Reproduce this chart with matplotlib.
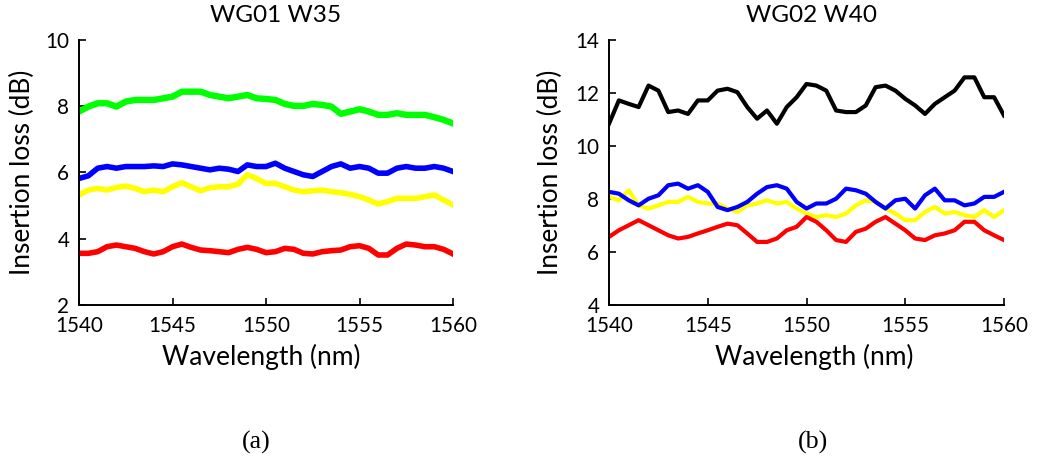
import numpy as np
import matplotlib
matplotlib.use("Agg")
import matplotlib.pyplot as plt

wavelength = [1540 + 0.5 * i for i in range(41)]

# Panel (a) WG01 W35
a_green = [7.84, 7.99, 8.09, 8.09, 7.99, 8.14, 8.19, 8.19, 8.19, 8.24, 8.29, 8.44, 8.44, 8.44,
           8.34, 8.29, 8.24, 8.29, 8.34, 8.24, 8.22, 8.19, 8.07, 8.01, 8.01, 8.07, 8.04, 7.99,
           7.77, 7.84, 7.91, 7.84, 7.74, 7.74, 7.79, 7.74, 7.74, 7.74, 7.67, 7.59, 7.48]
a_blue = [5.82, 5.90, 6.13, 6.18, 6.13, 6.18, 6.18, 6.18, 6.20, 6.18, 6.26, 6.23, 6.18, 6.13,
          6.08, 6.13, 6.10, 6.03, 6.23, 6.18, 6.18, 6.28, 6.13, 6.03, 5.93, 5.88, 6.03, 6.18,
          6.26, 6.13, 6.18, 6.13, 5.98, 5.98, 6.13, 6.18, 6.13, 6.13, 6.18, 6.13, 6.03]
a_yellow = [5.32, 5.47, 5.52, 5.47, 5.55, 5.59, 5.52, 5.42, 5.47, 5.42, 5.57, 5.69, 5.57, 5.45,
            5.54, 5.57, 5.57, 5.65, 5.93, 5.82, 5.67, 5.67, 5.57, 5.47, 5.42, 5.45, 5.47, 5.42,
            5.39, 5.34, 5.27, 5.17, 5.05, 5.12, 5.22, 5.22, 5.22, 5.27, 5.32, 5.17, 5.02]
a_red = [3.56, 3.56, 3.61, 3.76, 3.81, 3.76, 3.71, 3.61, 3.54, 3.61, 3.76, 3.84, 3.74, 3.66,
         3.64, 3.61, 3.58, 3.68, 3.74, 3.68, 3.58, 3.61, 3.71, 3.68, 3.56, 3.54, 3.61, 3.64,
         3.66, 3.76, 3.79, 3.71, 3.51, 3.51, 3.71, 3.84, 3.81, 3.76, 3.76, 3.68, 3.54]

# Panel (b) WG02 W40
b_black = [10.84, 11.72, 11.59, 11.47, 12.28, 12.09, 11.28, 11.34, 11.21, 11.72, 11.72, 12.09,
           12.16, 12.03, 11.47, 11.03, 11.34, 10.84, 11.47, 11.84, 12.34, 12.28, 12.09, 11.34,
           11.28, 11.28, 11.53, 12.22, 12.28, 12.09, 11.78, 11.53, 11.21, 11.59, 11.84, 12.09,
           12.59, 12.59, 11.84, 11.84, 11.15]
b_blue = [8.27, 8.20, 7.95, 7.76, 8.01, 8.14, 8.52, 8.58, 8.39, 8.52, 8.27, 7.70, 7.58, 7.70,
          7.89, 8.20, 8.45, 8.52, 8.39, 7.89, 7.64, 7.83, 7.83, 8.01, 8.39, 8.33, 8.20, 7.89,
          7.64, 7.95, 8.01, 7.64, 8.14, 8.39, 7.95, 7.95, 7.76, 7.83, 8.08, 8.08, 8.27]
b_yellow = [8.08, 7.95, 8.33, 7.76, 7.64, 7.76, 7.89, 7.89, 8.08, 7.89, 7.83, 7.83, 7.64, 7.51,
            7.76, 7.83, 7.95, 7.83, 7.89, 7.64, 7.45, 7.32, 7.39, 7.32, 7.45, 7.76, 7.95, 7.89,
            7.64, 7.45, 7.20, 7.20, 7.51, 7.70, 7.45, 7.51, 7.39, 7.32, 7.58, 7.32, 7.58]
b_red = [6.57, 6.82, 7.01, 7.20, 7.01, 6.82, 6.63, 6.51, 6.57, 6.70, 6.82, 6.95, 7.07, 7.01,
         6.70, 6.38, 6.38, 6.51, 6.82, 6.95, 7.32, 7.14, 6.82, 6.45, 6.38, 6.76, 6.88, 7.14,
         7.32, 7.07, 6.82, 6.51, 6.45, 6.63, 6.70, 6.82, 7.14, 7.14, 6.82, 6.63, 6.45]

xticks = [1540, 1545, 1550, 1555, 1560]
a_yticks = [2, 4, 6, 8, 10]
b_yticks = [4, 6, 8, 10, 12, 14]

plt.rcParams['font.family'] = ['Lato', 'DejaVu Sans']

W, H = 1038, 461
fig = plt.figure(figsize=(W / 100, H / 100), dpi=100)
renderer = fig.canvas.get_renderer()


def fit_size(text, target_px, family=None, rotation=0, start=14.0):
    """Font size so the drawn text spans target_px along its reading direction."""
    kw = {} if family is None else {'family': family}
    t = fig.text(0, 0, text, fontsize=start, rotation=rotation, **kw)
    bb = t.get_window_extent(renderer)
    span = bb.height if rotation == 90 else bb.width
    t.remove()
    return start * target_px / span


tick_fs = fit_size('1540', 48)
xlab_fs = fit_size('Wavelength (nm)', 199)
ylab_fs = fit_size('Insertion loss (dB)', 205, rotation=90)
title_fs = fit_size('WG01 W35', 132)
cap_fs = fit_size('(a)', 29, family='Liberation Serif')

ax1 = fig.add_axes([79 / W, 1 - 305 / H, 374 / W, 265 / H])
ax2 = fig.add_axes([609 / W, 1 - 305 / H, 395 / W, 265 / H])


def style(ax, yticks, title, title_x, xlabel_x, ylabel_x):
    for s in ['top', 'right']:
        ax.spines[s].set_visible(False)
    for s in ['left', 'bottom']:
        ax.spines[s].set_linewidth(1.4)
    ax.set_xlim(1540, 1560)
    ax.set_ylim(yticks[0], yticks[-1])
    ax.set_xticks(xticks)
    ax.set_yticks(yticks)
    ax.tick_params(direction='in', length=5, width=1.2, labelsize=tick_fs)
    ax.tick_params(axis='x', pad=8)
    ax.tick_params(axis='y', pad=7)
    ax.set_xlabel('Wavelength (nm)', fontsize=xlab_fs, va='center')
    ax.xaxis.set_label_coords(xlabel_x, -52 / 265)
    ax.set_ylabel('Insertion loss (dB)', fontsize=ylab_fs, va='center')
    ax.yaxis.set_label_coords(ylabel_x, 0.5)
    fig.text(title_x / W, 1 - 16 / H, title, ha='center', va='center', fontsize=title_fs)


lw_a = 4.0
ax1.plot(wavelength, a_green, color='#00ff00', lw=lw_a + 0.6)
ax1.plot(wavelength, a_blue, color='#0000ff', lw=lw_a)
ax1.plot(wavelength, a_yellow, color='#ffff00', lw=lw_a)
ax1.plot(wavelength, a_red, color='#ff0000', lw=lw_a)
style(ax1, a_yticks, 'WG01 W35', 276, (261.5 - 79) / 374, (22 - 79) / 374)

lw_b = 3.0
ax2.plot(wavelength, b_black, color='#000000', lw=lw_b)
ax2.plot(wavelength, b_yellow, color='#ffff00', lw=lw_b)
ax2.plot(wavelength, b_red, color='#ff0000', lw=lw_b)
ax2.plot(wavelength, b_blue, color='#0000ff', lw=lw_b)
style(ax2, b_yticks, 'WG02 W40', 811, (814 - 609) / 395, (550 - 609) / 395)

fig.text(256 / W, 1 - 442 / H, '(a)', ha='center', va='center',
         fontsize=cap_fs, family='Liberation Serif')
fig.text(813 / W, 1 - 442 / H, '(b)', ha='center', va='center',
         fontsize=cap_fs, family='Liberation Serif')

fig.savefig('out.png', dpi=100)
